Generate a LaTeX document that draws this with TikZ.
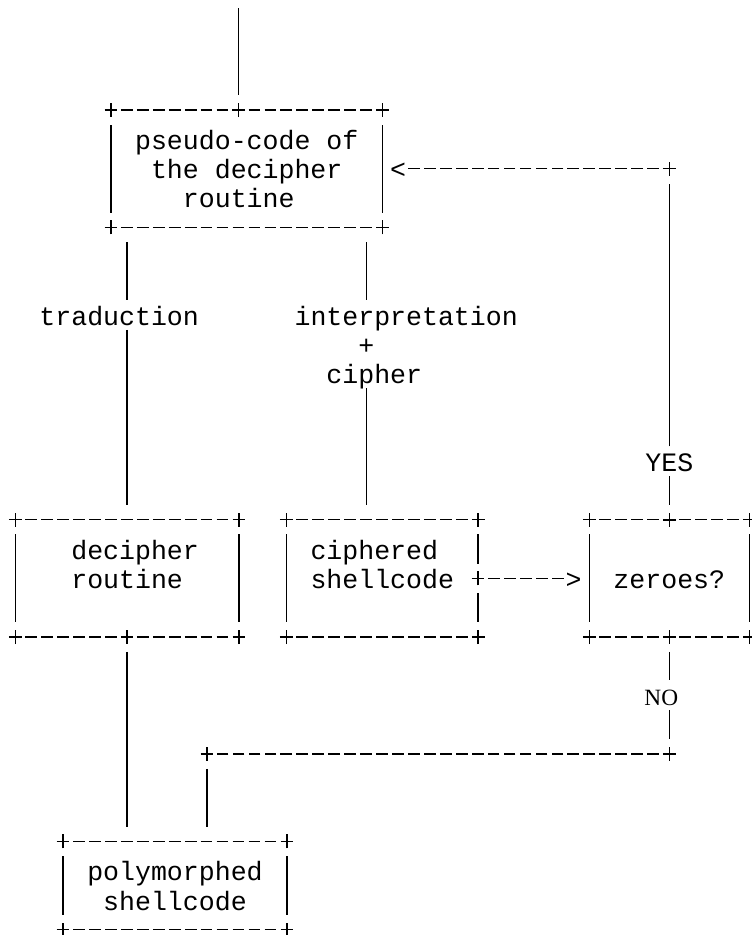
\documentclass[tikz,border=0pt]{standalone}
\usepackage{fontspec}
\setmonofont{Liberation Mono}
\newfontfamily\serifno{Liberation Serif}
\usetikzlibrary{calc}

\begin{document}
\begin{tikzpicture}
[x=11.96pt,y=-21.945pt,
box/.style={rectangle,inner sep=0pt},
txt/.style={inner sep=0pt,text height=18.47pt,text depth=3.47pt,
  font=\ttfamily\fontsize{19.93pt}{21.945pt}\selectfont},
junction/.style={rectangle,inner sep=0pt,minimum width=11.96pt,
  minimum height=21.945pt,fill=white,
  path picture={\draw[line width=1.1pt]
    ([xshift=-4.75pt]path picture bounding box.center) --
    ([xshift=4.75pt]path picture bounding box.center)
    ([yshift=-5.25pt]path picture bounding box.center) --
    ([yshift=5.25pt]path picture bounding box.center);}},
hline/.style={line width=1.1pt,dash pattern=on 8.8pt off 3.16pt,
  dash phase=10.38pt},
vline/.style={line width=1.1pt}]
\useasboundingbox (-0.972,-0.766) rectangle (46.18,31.19);

% boxes
\node[box,minimum width=17*11.96pt,minimum height=4*21.945pt] (pseudo code) at (14.5,5) {};
\node[box,minimum width=14*11.96pt,minimum height=4*21.945pt] (decipher routine) at (7,19) {};
\node[box,minimum width=12*11.96pt,minimum height=4*21.945pt] (ciphered shellcode) at (23,19) {};
\node[box,minimum width=10*11.96pt,minimum height=4*21.945pt] (zeroes) at (41,19) {};
\node[box,minimum width=14*11.96pt,minimum height=3*21.945pt] (polymorphed shellcode) at (10,29.5) {};

\foreach \bx in {pseudo code,decipher routine,ciphered shellcode,zeroes,polymorphed shellcode} {
  \draw[hline] ($(\bx.north west)+(.5,0)$) -- ($(\bx.north east)+(-.5,0)$)
               ($(\bx.south west)+(.5,0)$) -- ($(\bx.south east)+(-.5,0)$);
  \draw[vline] ($(\bx.north west)+(0,.5)$) -- ($(\bx.south west)+(0,-.5)$)
               ($(\bx.north east)+(0,.5)$) -- ($(\bx.south east)+(0,-.5)$);
  \node[junction] (\bx-nw) at (\bx.north west) {};
  \node[junction] (\bx-ne) at (\bx.north east) {};
  \node[junction] (\bx-sw) at (\bx.south west) {};
  \node[junction] (\bx-se) at (\bx.south east) {};
}

% junctions
\node[junction] (entry) at (14,3) {};
\node[junction] (decipher out) at (7,21) {};
\node[junction] (ciphered out) at (29,19) {};
\node[junction] (zeroes in) at (41,17) {};
\node[junction] (zeroes out) at (41,21) {};
\node[junction] (yes corner) at (41,5) {};
\node[junction] (no corner) at (41,25) {};
\node[junction] (merge) at (12,25) {};
\coordinate (top end) at (14,-0.485);

% texts
\node[txt] (pseudo 1) at (14.5,4) {pseudo-code of};
\node[txt] (pseudo 2) at (14.5,5) {the decipher};
\node[txt] (pseudo 3) at (14,6) {routine};
\node[txt] (traduction) at (6.5,10) {traduction};
\node[txt] (interpretation) at (24.5,10) {interpretation};
\node[txt] (and) at (22,11) {+};
\node[txt] (cipher) at (22.5,12) {cipher};
\node[txt] (yes) at (41,15) {YES};
\node[txt,font=\serifno\fontsize{17.5pt}{21.945pt}\selectfont] (no) at (40.5,23) {NO};
\node[txt] (decipher 1) at (7.5,18) {decipher};
\node[txt] (decipher 2) at (7,19) {routine};
\node[txt] (ciphered 1) at (22.5,18) {ciphered};
\node[txt] (ciphered 2) at (23,19) {shellcode};
\node[txt] (zeroes text) at (41,19) {zeroes?};
\node[txt] (poly 1) at (10,29) {polymorphed};
\node[txt] (poly 2) at (10,30) {shellcode};
\node[txt] (back tip) at (24,5) {<};
\node[txt] (fwd tip) at (35,19) {>};

% connectors
\draw[vline] (top end) -- (entry);
\draw[vline,shorten <=10.97pt] (decipher routine.north |- pseudo code.south) -- (decipher routine.north |- traduction.north);
\draw[vline,shorten >=10.97pt] (decipher routine.north |- traduction.south) -- (decipher routine.north);
\draw[vline,shorten <=10.97pt] (and |- pseudo code.south) -- (interpretation.north -| and);
\draw[vline,shorten >=10.97pt] (cipher.south -| and) -- (and |- ciphered shellcode.north);
\draw[vline] (zeroes in) -- (yes);
\draw[vline] (yes) -- (yes corner);
\draw[hline] (yes corner) -- (back tip);
\draw[hline] (ciphered out) -- (fwd tip);
\draw[vline] (zeroes out) -- (zeroes out |- no.north);
\draw[vline] (no.south -| no corner) -- (no corner);
\draw[hline] (no corner) -- (merge);
\draw[vline,shorten >=10.97pt] (merge) -- (merge |- polymorphed shellcode.north);
\draw[vline,shorten >=10.97pt] (decipher out) -- (decipher out |- polymorphed shellcode.north);
\end{tikzpicture}
\end{document}
